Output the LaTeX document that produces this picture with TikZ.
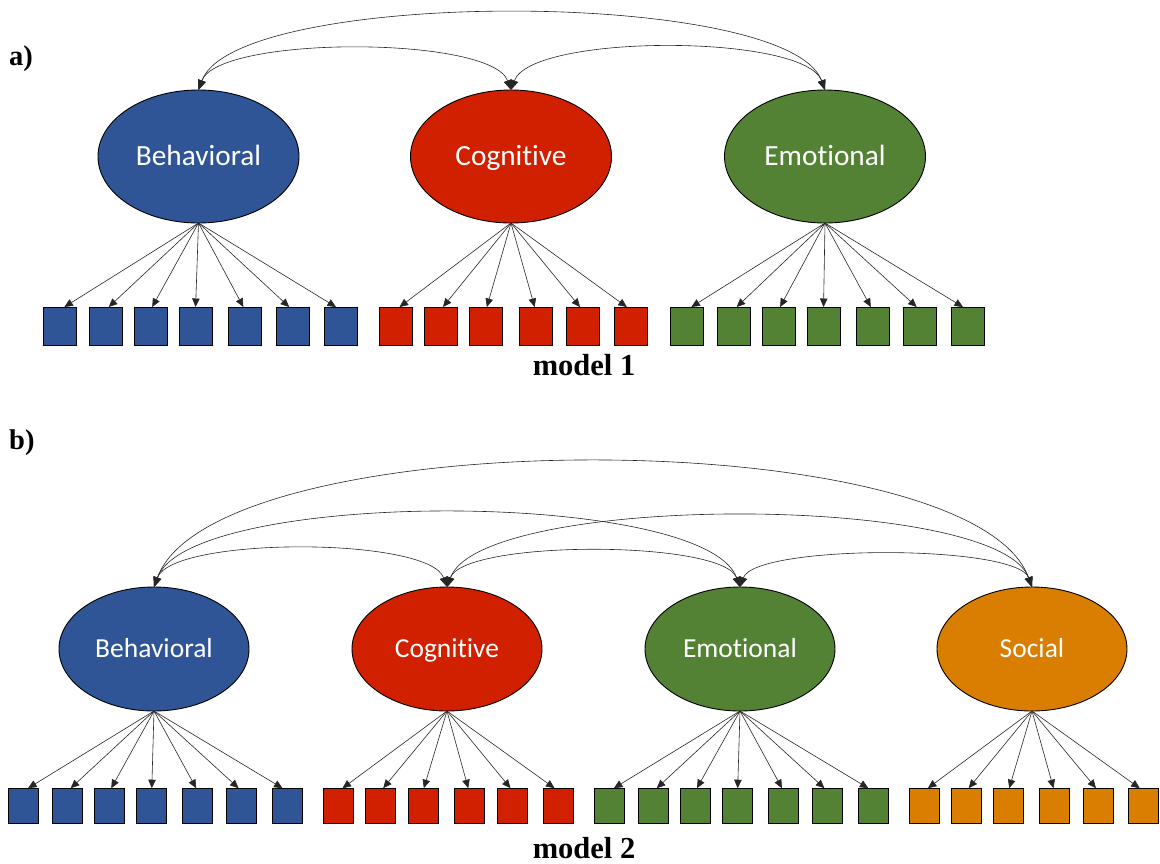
\documentclass[tikz,border=0pt]{standalone}
\usepackage{fontspec}
\setmainfont{Liberation Serif}
\newfontfamily\labelfont[Ligatures=NoCommon]{Carlito}
\usetikzlibrary{arrows.meta,shapes.geometric,calc}

\definecolor{behblue}{RGB}{47,85,151}
\definecolor{cogred}{RGB}{209,32,0}
\definecolor{emogreen}{RGB}{84,130,53}
\definecolor{socorange}{RGB}{217,126,0}

\tikzset{
  factorA/.style={ellipse, draw=black, line width=0.9pt, minimum width=201pt, minimum height=133pt,
    inner sep=0pt, outer sep=0pt, text=white, font=\labelfont\fontsize{29.3}{31}\selectfont,
    text height=18.5pt, text depth=0pt},
  factorB/.style={ellipse, draw=black, line width=0.9pt, minimum width=190pt, minimum height=124pt,
    inner sep=0pt, outer sep=0pt, text=white, font=\labelfont\fontsize{27.5}{29}\selectfont,
    text height=17.5pt, text depth=0pt},
  itemA/.style={rectangle, draw=black, line width=0.9pt, minimum width=33pt, minimum height=38pt,
    inner sep=0pt, outer sep=0pt},
  itemB/.style={rectangle, draw=black, line width=0.9pt, minimum width=30pt, minimum height=35pt,
    inner sep=0pt, outer sep=0pt},
  loading/.style={draw=black!85, line width=0.6pt, -{Triangle[length=8.5pt,width=7.5pt]}},
  covar/.style={draw=black!85, line width=0.6pt,
    {Triangle[length=10pt,width=8pt]}-{Triangle[length=10pt,width=8pt]}},
  panel/.style={font=\bfseries\fontsize{28.5}{30}\selectfont, inner sep=0pt, anchor=base west},
  caption/.style={font=\bfseries\fontsize{30.5}{32}\selectfont, inner sep=0pt, anchor=base},
}

\begin{document}
\begin{tikzpicture}[x=1pt,y=1pt]
\useasboundingbox (0,0) rectangle (1160,-863);

% ---------- panel a: three-factor model ----------
\node[panel] (la) at (9,-65) {a)};
\node[factorA, fill=behblue]   (Ba) at (198.5,-156.5) {Behavioral};
\node[factorA, fill=cogred]    (Ca) at (511,-156.5)   {Cognitive};
\node[factorA, fill=emogreen]  (Ea) at (825,-156.5)   {Emotional};

\draw[covar] (Ba.north) to[out=70,in=110,looseness=0.476] (Ca.north);
\draw[covar] (Ca.north) to[out=70,in=110,looseness=0.49] (Ea.north);
\draw[covar] (Ba.north) to[out=70,in=110,looseness=0.445] (Ea.north);

\foreach \x [count=\i] in {59.5,105.5,150.5,195.5,245,292.5,341} {
  \node[itemA, fill=behblue] (ab\i) at (\x,-326) {};
  \draw[loading] (Ba.south) -- ($(ab\i.north)!0.035!(Ba.south |- ab\i.north)$);
}
\foreach \x [count=\i] in {395.5,440.5,486,535.5,582.5,631} {
  \node[itemA, fill=cogred] (ac\i) at (\x,-326) {};
  \draw[loading] (Ca.south) -- ($(ac\i.north)!0.035!(Ca.south |- ac\i.north)$);
}
\foreach \x [count=\i] in {686.5,733.5,778.5,823.5,872.5,920,968} {
  \node[itemA, fill=emogreen] (ae\i) at (\x,-326) {};
  \draw[loading] (Ea.south) -- ($(ae\i.north)!0.035!(Ea.south |- ae\i.north)$);
}
\node[caption] (ma) at (584,-375) {model 1};

% ---------- panel b: four-factor model ----------
\node[panel] (lb) at (9,-449) {b)};
\node[factorB, fill=behblue]    (Bb) at (154,-649)  {Behavioral};
\node[factorB, fill=cogred]     (Cb) at (447,-649)  {Cognitive};
\node[factorB, fill=emogreen]   (Eb) at (740,-649)  {Emotional};
\node[factorB, fill=socorange]  (Sb) at (1032,-649) {Social};

\draw[covar] (Bb.north) to[out=70,in=110,looseness=0.517] (Sb.north);
\draw[covar] (Bb.north) to[out=70,in=110,looseness=0.458] (Eb.north);
\draw[covar] (Cb.north) to[out=70,in=110,looseness=0.44] (Sb.north);
\draw[covar] (Bb.north) to[out=70,in=110,looseness=0.47] (Cb.north);
\draw[covar] (Cb.north) to[out=70,in=110,looseness=0.44] (Eb.north);
\draw[covar] (Eb.north) to[out=70,in=110,looseness=0.40] (Sb.north);

\foreach \x [count=\i] in {23.5,67.7,109.7,151.7,197.7,241.7,287.2} {
  \node[itemB, fill=behblue] (bb\i) at (\x,-805.7) {};
  \draw[loading] (Bb.south) -- ($(bb\i.north)!0.035!(Bb.south |- bb\i.north)$);
}
\foreach \x [count=\i] in {338.7,380.9,423,469,512.8,558.4} {
  \node[itemB, fill=cogred] (bc\i) at (\x,-805.7) {};
  \draw[loading] (Cb.south) -- ($(bc\i.north)!0.035!(Cb.south |- bc\i.north)$);
}
\foreach \x [count=\i] in {609.3,653.7,695.4,737.6,783.5,827.5,873} {
  \node[itemB, fill=emogreen] (be\i) at (\x,-805.7) {};
  \draw[loading] (Eb.south) -- ($(be\i.north)!0.035!(Eb.south |- be\i.north)$);
}
\foreach \x [count=\i] in {924.1,966.4,1008.4,1054.3,1098.3,1143.6} {
  \node[itemB, fill=socorange] (bs\i) at (\x,-805.7) {};
  \draw[loading] (Sb.south) -- ($(bs\i.north)!0.035!(Sb.south |- bs\i.north)$);
}
\node[caption] (mb) at (584,-858) {model 2};
\end{tikzpicture}
\end{document}
